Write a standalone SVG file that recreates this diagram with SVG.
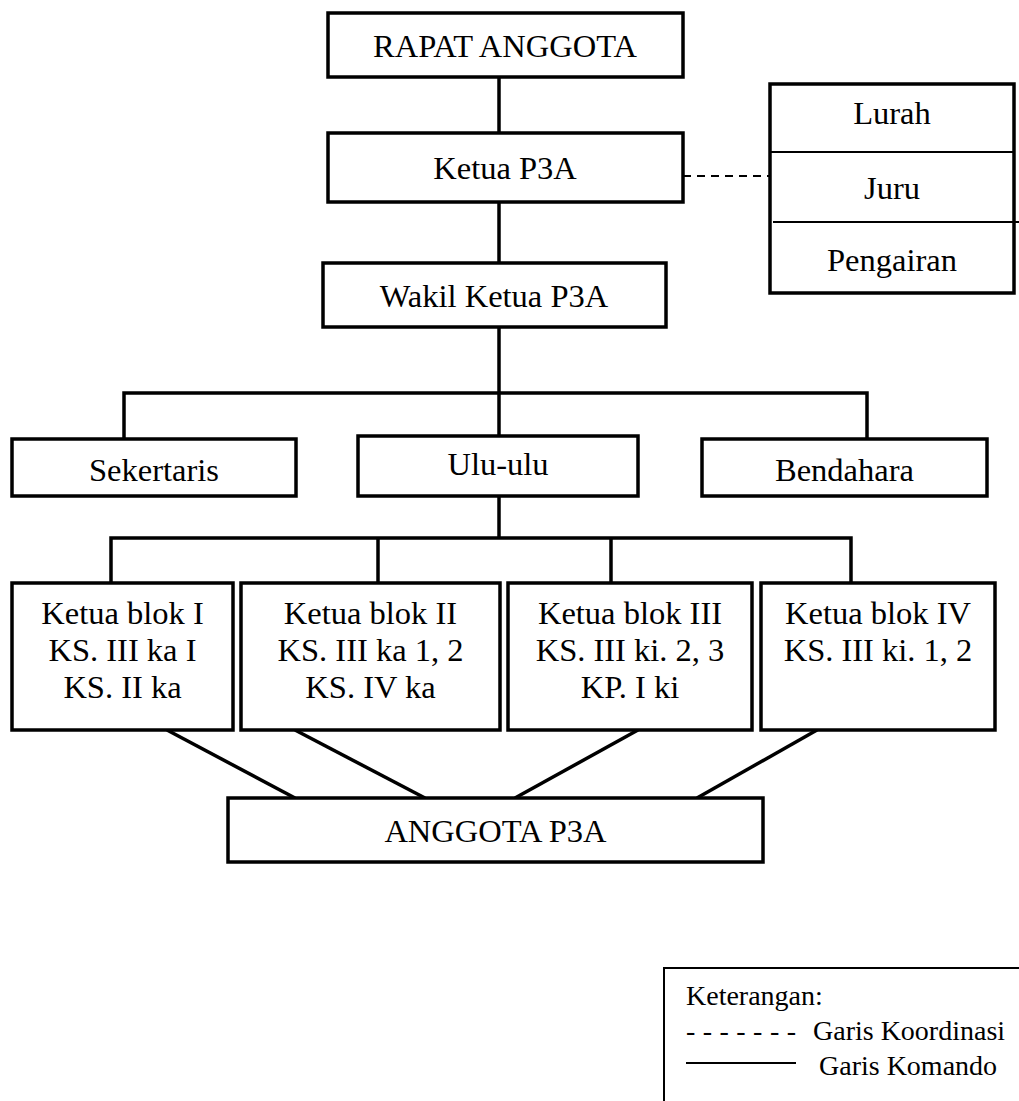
<svg xmlns="http://www.w3.org/2000/svg" width="1019" height="1101" viewBox="0 0 1019 1101">
<style>
  .box { fill: #fff; stroke: #000; stroke-width: 3.5; }
  .thin { fill: none; stroke: #000; stroke-width: 2; }
  .conn { fill: none; stroke: #000; stroke-width: 3.5; }
  .t { font-family: "Liberation Serif", "Times New Roman", serif; font-size: 32.5px; fill: #000; text-anchor: middle; }
  .lg { font-family: "Liberation Serif", "Times New Roman", serif; font-size: 28px; fill: #000; }
</style>
<rect width="1019" height="1101" fill="#fff"/>
<g id="connectors">
  <line class="conn" x1="499" y1="77" x2="499" y2="133"/>
  <line class="conn" x1="499" y1="202" x2="499" y2="263"/>
  <line class="conn" x1="499" y1="327" x2="499" y2="436"/>
  <polyline class="conn" points="124,439 124,393 867,393 867,439"/>
  <line class="conn" x1="499" y1="496" x2="499" y2="538"/>
  <polyline class="conn" points="111,583 111,538 851,538 851,583"/>
  <line class="conn" x1="378" y1="538" x2="378" y2="583"/>
  <line class="conn" x1="611" y1="538" x2="611" y2="583"/>
  <line class="conn" x1="167" y1="730" x2="295" y2="798"/>
  <line class="conn" x1="295" y1="730" x2="425" y2="798"/>
  <line class="conn" x1="638" y1="730" x2="515" y2="798"/>
  <line class="conn" x1="817" y1="730" x2="697" y2="798"/>
  <line x1="683" y1="176" x2="770" y2="176" stroke="#000" stroke-width="2" stroke-dasharray="8,6"/>
</g>
<g id="rapat-anggota">
  <rect class="box" x="328" y="13" width="355" height="64"/>
  <text class="t" x="505" y="57">RAPAT ANGGOTA</text>
</g>
<g id="ketua-p3a">
  <rect class="box" x="328" y="133" width="355" height="69"/>
  <text class="t" x="505" y="179">Ketua P3A</text>
</g>
<g id="lurah-juru-pengairan">
  <rect class="box" x="770" y="84" width="244" height="209"/>
  <line class="thin" x1="770" y1="152" x2="1014" y2="152"/>
  <line class="thin" x1="773" y1="222" x2="1019" y2="222"/>
  <text class="t" x="892" y="124">Lurah</text>
  <text class="t" x="892" y="199">Juru</text>
  <text class="t" x="892" y="271">Pengairan</text>
</g>
<g id="wakil-ketua">
  <rect class="box" x="323" y="263" width="343" height="64"/>
  <text class="t" x="494" y="307">Wakil Ketua P3A</text>
</g>
<g id="sekertaris">
  <rect class="box" x="12" y="439" width="284" height="57"/>
  <text class="t" x="154" y="481">Sekertaris</text>
</g>
<g id="ulu-ulu">
  <rect class="box" x="358" y="436" width="280" height="60"/>
  <text class="t" x="498" y="475">Ulu-ulu</text>
</g>
<g id="bendahara">
  <rect class="box" x="702" y="439" width="285" height="57"/>
  <text class="t" x="844.5" y="481">Bendahara</text>
</g>
<g id="blok-1">
  <rect class="box" x="12" y="583" width="221" height="147"/>
  <text class="t" x="122.5" y="624">Ketua blok I</text>
  <text class="t" x="122.5" y="661">KS. III ka I</text>
  <text class="t" x="122.5" y="698">KS. II ka</text>
</g>
<g id="blok-2">
  <rect class="box" x="241" y="583" width="259" height="147"/>
  <text class="t" x="370.5" y="624">Ketua blok II</text>
  <text class="t" x="370.5" y="661">KS. III ka 1, 2</text>
  <text class="t" x="370.5" y="698">KS. IV ka</text>
</g>
<g id="blok-3">
  <rect class="box" x="508" y="583" width="244" height="147"/>
  <text class="t" x="630" y="624">Ketua blok III</text>
  <text class="t" x="630" y="661">KS. III ki. 2, 3</text>
  <text class="t" x="630" y="698">KP. I ki</text>
</g>
<g id="blok-4">
  <rect class="box" x="761" y="583" width="234" height="147"/>
  <text class="t" x="878" y="624">Ketua blok IV</text>
  <text class="t" x="878" y="661">KS. III ki. 1, 2</text>
</g>
<g id="anggota-p3a">
  <rect class="box" x="228" y="798" width="535" height="64"/>
  <text class="t" x="495.5" y="842">ANGGOTA P3A</text>
</g>
<g id="legend">
  <rect x="664" y="968" width="400" height="200" fill="#fff" stroke="#000" stroke-width="2"/>
  <text class="lg" x="686" y="1005">Keterangan:</text>
  <text class="lg" x="686" y="1040" textLength="110" lengthAdjust="spacing" xml:space="preserve">- - - - - - -</text>
  <text class="lg" x="813" y="1040">Garis Koordinasi</text>
  <line x1="686" y1="1063" x2="796" y2="1063" stroke="#000" stroke-width="2"/>
  <text class="lg" x="819" y="1075">Garis Komando</text>
</g>
</svg>
